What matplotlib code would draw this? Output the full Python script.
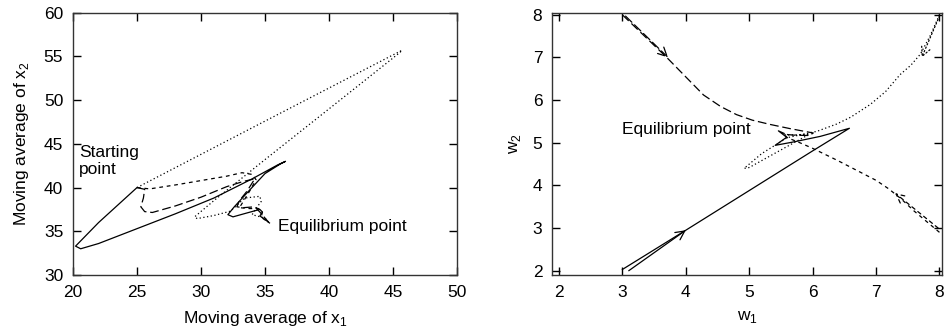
import matplotlib
matplotlib.use("Agg")
import matplotlib.pyplot as plt

plt.rcParams['font.family'] = ['Liberation Sans', 'DejaVu Sans']
plt.rcParams['font.size'] = 12.5

# ---- left panel: moving averages of x1, x2 (four runs from the same start)
solid_x1 = [25.0, 23.5, 22.0, 20.8, 20.2, 20.6, 22.0, 25.0, 28.0, 31.0, 34.0, 36.0, 36.6,
            36.2, 35.0, 33.6, 32.6, 32.1, 32.5, 33.6, 34.6, 34.8, 34.6, 35.0, 35.35]
solid_x2 = [40.0, 38.0, 36.0, 34.2, 33.3, 33.0, 33.6, 35.3, 37.0, 38.8, 41.0, 42.6, 43.0,
            42.7, 41.6, 39.4, 37.8, 36.9, 36.65, 37.1, 37.5, 37.2, 36.75, 36.35, 35.95]

ldash_x1 = [25.0, 25.6, 25.5, 25.3, 25.6, 26.2, 28.0, 30.0, 32.0, 33.3, 34.2, 33.6,
            33.0, 32.8, 33.3, 34.2, 34.6, 35.3]
ldash_x2 = [40.0, 39.8, 38.8, 37.8, 37.25, 37.15, 37.9, 38.9, 40.1, 40.7, 41.0, 39.6,
            38.5, 37.8, 37.7, 37.8, 37.2, 36.0]

sdash_x1 = [25.0, 26.0, 28.0, 30.0, 32.0, 33.2, 34.0, 34.3, 33.8, 33.3, 33.0, 33.8,
            34.5, 34.8, 34.7, 35.3]
sdash_x2 = [40.0, 39.85, 40.3, 40.8, 41.3, 41.7, 41.5, 40.9, 39.6, 38.4, 37.7, 37.6,
            37.6, 37.2, 36.6, 36.0]

dot_x1 = [25.0, 35.0, 45.7, 45.5, 40.0, 35.0, 31.0, 29.5, 29.7, 31.0, 32.3, 33.4,
          34.6, 34.7, 34.2, 34.0, 34.5, 35.0, 35.3]
dot_x2 = [40.0, 47.6, 55.7, 55.4, 49.0, 43.2, 38.5, 36.65, 36.45, 36.8, 37.3, 38.8,
          39.0, 38.4, 37.4, 36.9, 36.7, 36.5, 36.0]

# ---- right panel: parameters w1, w2 (four runs from the corners)
solid_w1 = [3.0, 4.0, 5.0, 6.0, 6.58, 6.12, 5.70, 5.41, 5.59, 5.46, 5.55]
solid_w2 = [2.03, 2.95, 3.88, 4.81, 5.34, 5.15, 5.02, 4.94, 5.13, 5.28, 5.22]

ldash_w1 = [3.0, 3.35, 3.7, 3.95, 4.28, 4.55, 4.8, 5.05, 5.33, 5.65, 6.01, 5.95, 5.7, 5.55]
ldash_w2 = [8.0, 7.5, 7.0, 6.62, 6.12, 5.85, 5.66, 5.53, 5.43, 5.33, 5.23, 5.17, 5.18, 5.2]

sdash_w1 = [8.0, 7.8, 7.6, 7.4, 7.2, 7.0, 6.7, 6.4, 6.0, 5.8, 5.6, 5.55]
sdash_w2 = [2.9, 3.15, 3.4, 3.68, 3.92, 4.12, 4.35, 4.58, 4.87, 5.0, 5.12, 5.2]

dot_w1 = [8.0, 7.85, 7.7, 7.55, 7.38, 7.15, 6.91, 6.6, 6.38, 6.07, 5.6, 5.2, 4.92,
          5.0, 5.4, 5.85, 5.95, 5.6, 5.55]
dot_w2 = [8.0, 7.5, 7.08, 6.82, 6.6, 6.2, 5.9, 5.6, 5.44, 5.27, 5.12, 4.75, 4.40,
          4.42, 4.75, 5.12, 5.2, 5.18, 5.2]

# direction arrows (tail, head) for each run
arrow_solid = [(3.1, 2.0), (4.0, 2.95)]
arrow_ldash = [(3.05, 7.97), (3.72, 7.0)]
arrow_sdash = [(7.98, 3.0), (7.3, 3.82)]
arrow_dot = [(8.0, 7.97), (7.72, 7.0)]

LDASH = (0, (7, 3))
SDASH = (0, (3, 3))
DOT = (0, (1, 2))
LW = 0.9

fig = plt.figure(figsize=(9.44, 3.36), dpi=100)
ax1 = fig.add_axes([73 / 944, 1 - 275 / 336, 384 / 944, 262.3 / 336])
ax2 = fig.add_axes([552 / 944, 1 - 275 / 336, 390 / 944, 262.3 / 336])

ax1.plot(solid_x1, solid_x2, color='black', lw=LW)
ax1.plot(ldash_x1, ldash_x2, color='black', lw=LW, ls=LDASH)
ax1.plot(sdash_x1, sdash_x2, color='black', lw=LW, ls=SDASH)
ax1.plot(dot_x1, dot_x2, color='black', lw=LW, ls=DOT)
ax1.set_xlim(20, 50)
ax1.set_ylim(30, 60)
ax1.set_xticks(range(20, 51, 5))
ax1.set_yticks(range(30, 61, 5))
ax1.set_xlabel('Moving average of x$_\\mathregular{1}$', labelpad=7)
ax1.set_ylabel('Moving average of x$_\\mathregular{2}$', labelpad=9)
ax1.text(20.45, 43.0, 'Starting\npoint', ha='left', va='center', linespacing=1.15)
ax1.text(36.0, 35.5, 'Equilibrium point', ha='left', va='center')

ax2.plot(solid_w1, solid_w2, color='black', lw=LW)
ax2.plot(ldash_w1, ldash_w2, color='black', lw=LW, ls=LDASH)
ax2.plot(sdash_w1, sdash_w2, color='black', lw=LW, ls=SDASH)
ax2.plot(dot_w1, dot_w2, color='black', lw=LW, ls=DOT)
for arr, style in [(arrow_solid, '-'), (arrow_ldash, LDASH),
                   (arrow_sdash, SDASH), (arrow_dot, DOT)]:
    ax2.annotate('', xy=arr[1], xytext=arr[0],
                 arrowprops=dict(arrowstyle='->', color='black', lw=LW, ls=style,
                                 mutation_scale=16, shrinkA=0, shrinkB=0))
ax2.set_xlim(1.89, 8.04)
ax2.set_ylim(1.9, 8.05)
ax2.set_xticks(range(2, 9))
ax2.set_yticks(range(2, 9))
ax2.set_xlabel('w$_\\mathregular{1}$', labelpad=7)
ax2.set_ylabel('w$_\\mathregular{2}$', labelpad=7)
ax2.text(3.0, 5.3, 'Equilibrium point', ha='left', va='center')

for ax in (ax1, ax2):
    ax.tick_params(direction='in', length=6, width=1, top=True, right=True, pad=7)
    for s in ax.spines.values():
        s.set_linewidth(1)
        s.set_color('#333333')

fig.savefig('out.png', dpi=100)
